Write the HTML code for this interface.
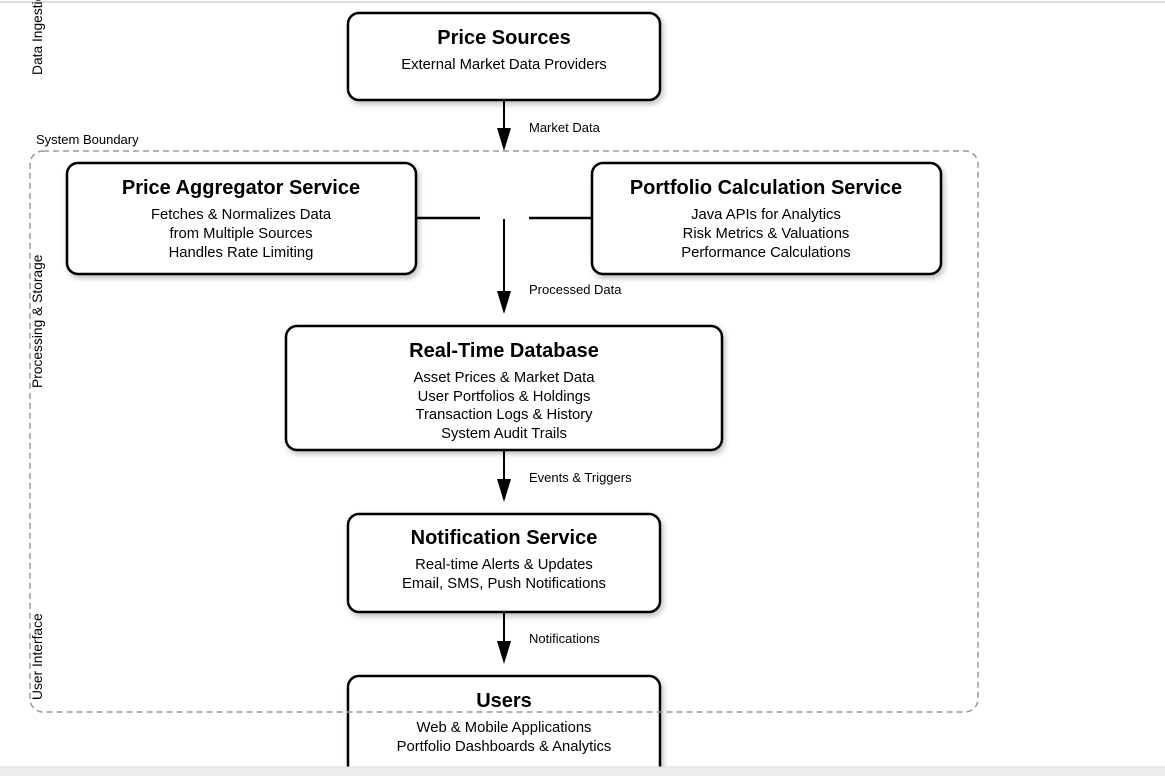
<!DOCTYPE html>
<html><head><meta charset="utf-8"><style>
html,body{margin:0;padding:0;background:#fff;width:1165px;height:776px;overflow:hidden}
svg{display:block}
text{font-family:"Liberation Sans",Arial,sans-serif;fill:#000}
.t{font-size:20px;font-weight:bold;text-anchor:middle}
.s{font-size:14.8px;text-anchor:middle}
.l{font-size:13px}
.r{font-size:13.8px}
.b{fill:#fff;stroke:#000;stroke-width:2.5}
</style></head><body>
<svg width="1165" height="776" viewBox="0 0 1165 776">
<defs>
<filter id="sh" x="-10%" y="-10%" width="130%" height="130%"><feDropShadow dx="2" dy="3" stdDeviation="3" flood-color="#000" flood-opacity="0.25"/></filter>
</defs>
<line x1="0" y1="2" x2="1165" y2="2" stroke="#ddd" stroke-width="2"/>
<text class="l" x="36" y="144">System Boundary</text>
<text class="r" transform="translate(42,75) rotate(-90)">Data Ingestion</text>
<text class="r" transform="translate(42,388) rotate(-90)">Processing &amp; Storage</text>
<text class="r" transform="translate(42,700) rotate(-90)">User Interface</text>

<line x1="504" y1="100" x2="504" y2="128" stroke="#000" stroke-width="2"/>
<path d="M497,128 L511,128 L504,151 Z"/>
<text class="l" x="529" y="132">Market Data</text>
<line x1="416" y1="218" x2="480" y2="218" stroke="#000" stroke-width="2.5"/>
<line x1="529" y1="218" x2="592" y2="218" stroke="#000" stroke-width="2.5"/>
<line x1="504" y1="219" x2="504" y2="292" stroke="#000" stroke-width="2"/>
<path d="M497,291 L511,291 L504,314 Z"/>
<text class="l" x="529" y="294">Processed Data</text>
<line x1="504" y1="450" x2="504" y2="480" stroke="#000" stroke-width="2"/>
<path d="M497,479 L511,479 L504,502 Z"/>
<text class="l" x="529" y="482">Events &amp; Triggers</text>
<line x1="504" y1="612" x2="504" y2="642" stroke="#000" stroke-width="2"/>
<path d="M497,641 L511,641 L504,664 Z"/>
<text class="l" x="529" y="643">Notifications</text>

<rect class="b" filter="url(#sh)" x="348" y="13" width="312" height="87" rx="11"/>
<text class="t" x="504" y="44">Price Sources</text>
<text class="s" x="504" y="69">External Market Data Providers</text>

<rect class="b" filter="url(#sh)" x="67" y="163" width="349" height="111" rx="11"/>
<text class="t" x="241" y="194">Price Aggregator Service</text>
<text class="s" x="241" y="219">Fetches &amp; Normalizes Data</text>
<text class="s" x="241" y="238">from Multiple Sources</text>
<text class="s" x="241" y="257">Handles Rate Limiting</text>

<rect class="b" filter="url(#sh)" x="592" y="163" width="349" height="111" rx="11"/>
<text class="t" x="766" y="194">Portfolio Calculation Service</text>
<text class="s" x="766" y="219">Java APIs for Analytics</text>
<text class="s" x="766" y="238">Risk Metrics &amp; Valuations</text>
<text class="s" x="766" y="257">Performance Calculations</text>

<rect class="b" filter="url(#sh)" x="286" y="326" width="436" height="124" rx="11"/>
<text class="t" x="504" y="357">Real-Time Database</text>
<text class="s" x="504" y="382">Asset Prices &amp; Market Data</text>
<text class="s" x="504" y="401">User Portfolios &amp; Holdings</text>
<text class="s" x="504" y="419">Transaction Logs &amp; History</text>
<text class="s" x="504" y="438">System Audit Trails</text>

<rect class="b" filter="url(#sh)" x="348" y="514" width="312" height="98" rx="11"/>
<text class="t" x="504" y="544">Notification Service</text>
<text class="s" x="504" y="569">Real-time Alerts &amp; Updates</text>
<text class="s" x="504" y="588">Email, SMS, Push Notifications</text>

<rect class="b" filter="url(#sh)" x="348" y="676" width="312" height="120" rx="11"/>
<text class="t" x="504" y="707">Users</text>
<text class="s" x="504" y="732">Web &amp; Mobile Applications</text>
<text class="s" x="504" y="751">Portfolio Dashboards &amp; Analytics</text>
<rect x="30" y="151" width="948" height="561" rx="13" fill="none" stroke="#999" stroke-width="1.5" stroke-dasharray="6,4"/>
<rect x="0" y="767" width="1165" height="9" fill="#eee"/>
<line x1="0" y1="767" x2="1165" y2="767" stroke="#ddd" stroke-width="1"/>
</svg>
</body></html>
